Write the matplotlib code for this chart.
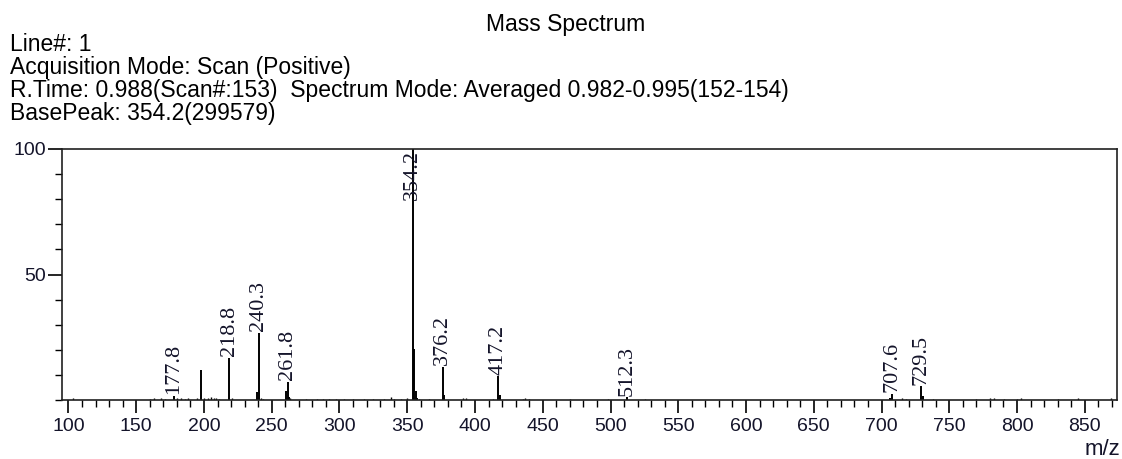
import numpy as np
import matplotlib
matplotlib.use('Agg')
import matplotlib.pyplot as plt
from matplotlib.ticker import MultipleLocator

plt.rcParams['font.family'] = ['Liberation Sans', 'DejaVu Sans']

# Header lines above the plot
title = "Mass Spectrum"
header = ["Line#: 1",
          "Acquisition Mode: Scan (Positive)",
          "R.Time: 0.988(Scan#:153)  Spectrum Mode: Averaged 0.982-0.995(152-154)",
          "BasePeak: 354.2(299579)"]

# Peaks (m/z, relative intensity %)
peak_mz = [177.8, 197.9, 218.8, 239.3, 240.3, 260.8, 261.8, 262.8,
           354.2, 355.2, 356.2, 357.2, 376.2, 377.2, 417.2, 418.2,
           512.3, 706.6, 707.6, 729.5, 730.5]
peak_int = [1.7, 12.0, 16.9, 3.0, 26.8, 3.6, 7.3, 1.2,
            100.0, 20.2, 3.5, 1.0, 13.3, 2.0, 9.4, 2.0,
            1.2, 1.0, 2.5, 5.5, 1.5]

# Small noise peaks
noise_mz = [103.0, 160.5, 163.0, 168.2, 171.0, 180.3, 183.0, 186.1, 188.4, 195.2,
            200.3, 203.1, 205.0, 207.2, 209.1, 211.3, 221.0, 242.2, 243.3, 263.8,
            275.0, 283.2, 288.1, 292.0, 297.3, 303.0, 310.1, 318.2, 325.0, 333.1,
            338.2, 340.0, 345.3, 350.1, 358.4, 366.0, 391.2, 393.0, 413.1, 435.2,
            437.0, 440.1, 470.3, 498.2, 525.1, 715.3, 718.0, 738.2, 770.1, 780.3,
            783.0, 790.2, 800.1, 803.0, 830.2, 845.0, 869.1]
noise_int = [0.8, 0.6, 0.7, 0.9, 0.6, 1.0, 0.8, 0.6, 0.7, 0.9,
             1.0, 0.8, 1.1, 0.7, 0.9, 0.6, 0.8, 0.9, 0.6, 1.0,
             0.5, 0.6, 0.5, 0.6, 0.5, 0.5, 0.5, 0.6, 0.5, 0.5,
             1.2, 0.6, 0.6, 0.8, 0.6, 0.5, 0.9, 0.7, 0.6, 0.6,
             0.8, 0.5, 0.5, 0.5, 0.5, 0.8, 0.6, 0.5, 0.6, 0.9,
             0.8, 0.6, 0.6, 0.9, 0.5, 0.7, 0.9]

label_mz = [177.8, 218.8, 240.3, 261.8, 354.2, 376.2, 417.2, 512.3, 707.6, 729.5]
label_txt = ["177.8", "218.8", "240.3", "261.8", "354.2", "376.2", "417.2", "512.3", "707.6", "729.5"]

txt_col = '#14142a'

fig = plt.figure(figsize=(11.22, 4.59), dpi=100)
ax = fig.add_axes([0.055, 0.1285, 0.9408, 0.5469])

ax.vlines(noise_mz, 0, noise_int, colors='k', linewidth=1.0)
ax.vlines(peak_mz, 0, peak_int, colors='k', linewidth=1.4)

lookup = dict(zip(peak_mz, peak_int))
for mz, t in zip(label_mz, label_txt):
    h = lookup[mz]
    if h > 90:
        # base peak: label sits inside the top of the frame
        ax.text(mz, 99.5, t, rotation=90, ha='center', va='top',
                fontsize=16, family='Liberation Serif', color=txt_col)
    else:
        ax.text(mz, h + 0.6, t, rotation=90, ha='center', va='bottom',
                fontsize=16, family='Liberation Serif', color=txt_col)

ax.set_xlim(95, 874)
ax.set_ylim(0, 100)
ax.xaxis.set_major_locator(MultipleLocator(50))
ax.xaxis.set_minor_locator(MultipleLocator(10))
ax.set_yticks([50, 100])
ax.yaxis.set_minor_locator(MultipleLocator(10))
ax.tick_params(which='major', length=9, width=1.2, labelsize=14, pad=4, labelcolor=txt_col)
ax.tick_params(which='minor', length=5, width=1.0)
ax.tick_params(axis='y', which='major', length=10, pad=1)
for s in ax.spines.values():
    s.set_linewidth(1.2)
    s.set_color('#202020')

fig.text(566 / 1122, 1 - 31 / 459, title, ha='center', va='baseline', fontsize=16.5, color='k')
for i, line in enumerate(header):
    fig.text(10 / 1122, 1 - (51 + 23 * i) / 459, line, ha='left', va='baseline',
             fontsize=16.5, color='k')
fig.text(1120 / 1122, 1 - 455 / 459, "m/z", ha='right', va='baseline', fontsize=16, color=txt_col)

fig.savefig('out.png', dpi=100)
